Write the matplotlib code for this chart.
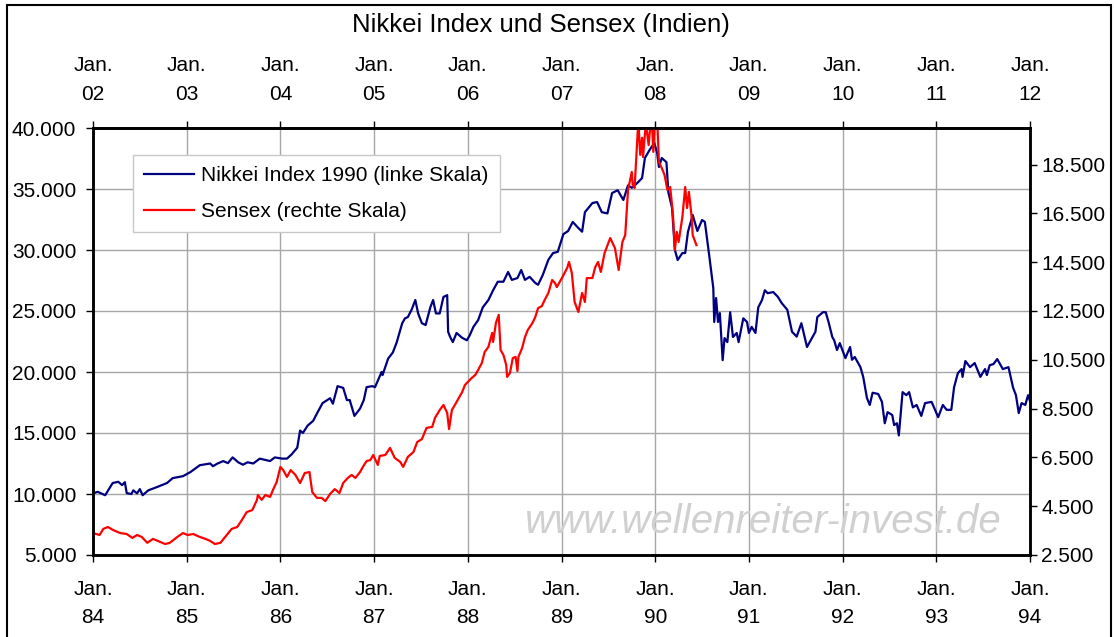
import matplotlib
matplotlib.use('Agg')
from matplotlib import pyplot as plt
from matplotlib.ticker import FuncFormatter
from matplotlib.patches import Rectangle

plt.rcParams['font.family'] = ['Liberation Sans', 'DejaVu Sans']

# time in years after Jan. 1984 (Nikkei) and after Jan. 2002 (Sensex)
nikkei_t = [0.00, 0.05, 0.13, 0.21, 0.27, 0.31, 0.34, 0.36, 0.41, 0.43, 0.47, 0.50, 0.53, 0.59, 0.68,
            0.79, 0.85, 0.96, 1.04, 1.14, 1.25, 1.28, 1.33, 1.39, 1.44, 1.49, 1.55, 1.60, 1.65, 1.71,
            1.78, 1.89, 1.94, 2.02, 2.07, 2.12, 2.18, 2.21, 2.24, 2.29, 2.35, 2.39, 2.45, 2.53, 2.56,
            2.61, 2.67, 2.71, 2.74, 2.79, 2.85, 2.89, 2.92, 2.98, 3.01, 3.08, 3.09, 3.15, 3.20, 3.24,
            3.30, 3.33, 3.36, 3.40, 3.44, 3.47, 3.51, 3.55, 3.60, 3.63, 3.66, 3.70, 3.74, 3.78, 3.79,
            3.81, 3.84, 3.88, 3.94, 3.99, 4.02, 4.06, 4.11, 4.16, 4.22, 4.27, 4.32, 4.38, 4.43, 4.47,
            4.53, 4.57, 4.61, 4.66, 4.72, 4.75, 4.80, 4.86, 4.91, 4.96, 5.02, 5.07, 5.12, 5.18, 5.22,
            5.25, 5.33, 5.38, 5.43, 5.49, 5.54, 5.60, 5.66, 5.71, 5.75, 5.81, 5.86, 5.89, 5.94, 5.99,
            6.02, 6.04, 6.07, 6.12, 6.14, 6.18, 6.21, 6.24, 6.29, 6.32, 6.35, 6.40, 6.45, 6.50, 6.53,
            6.58, 6.62, 6.63, 6.65, 6.67, 6.69, 6.72, 6.74, 6.77, 6.80, 6.83, 6.87, 6.89, 6.94, 6.98,
            7.00, 7.03, 7.07, 7.10, 7.14, 7.17, 7.20, 7.26, 7.31, 7.35, 7.41, 7.46, 7.51, 7.56, 7.62,
            7.71, 7.73, 7.79, 7.82, 7.85, 7.89, 7.91, 7.94, 7.97, 8.03, 8.08, 8.10, 8.13, 8.19, 8.22,
            8.26, 8.29, 8.32, 8.38, 8.42, 8.45, 8.48, 8.53, 8.55, 8.58, 8.60, 8.64, 8.68, 8.71, 8.75,
            8.79, 8.84, 8.88, 8.95, 9.02, 9.07, 9.11, 9.16, 9.19, 9.23, 9.27, 9.28, 9.31, 9.36, 9.41,
            9.47, 9.52, 9.54, 9.57, 9.61, 9.65, 9.71, 9.77, 9.82, 9.85, 9.88, 9.91, 9.95, 9.97, 9.98,
            10.00]
nikkei_val = [10050, 10180, 9900, 10900, 11000, 10730, 10970, 10070, 10000, 10300, 10050, 10400, 9900, 10300, 10560,
              10900, 11300, 11460, 11800, 12360, 12500, 12280, 12500, 12700, 12530, 13000, 12600, 12400, 12600, 12500,
              12900, 12700, 13000, 12900, 12900, 13250, 13800, 15200, 15000, 15600, 16000, 16600, 17450, 17850, 17400,
              18840, 18700, 17700, 17700, 16400, 17000, 17700, 18760, 18840, 18760, 20000, 19750, 21100, 21600, 22400,
              24000, 24400, 24500, 25100, 25900, 24800, 24000, 23850, 25300, 25900, 24800, 24800, 26150, 26300, 23300,
              22900, 22450, 23200, 22800, 22600, 23000, 23700, 24250, 25300, 25900, 26700, 27400, 27400, 28200, 27550,
              27700, 28360, 27550, 27800, 27300, 27150, 27950, 29200, 29750, 29850, 31300, 31550, 32300, 31800, 31500,
              33100, 33850, 33930, 33100, 33000, 34670, 34900, 34100, 35300, 35100, 35500, 35900, 37540, 38200, 38770,
              38000, 36800, 37540, 37200, 34750, 33440, 30000, 29180, 29750, 29750, 31500, 32870, 31560, 32460, 32300,
              29340, 26880, 24100, 26060, 24100, 24830, 20970, 22780, 22450, 24900, 22870, 23200, 22450, 24400, 24100,
              23200, 23700, 23200, 25300, 25900, 26700, 26460, 26550, 26150, 25650, 25100, 23300, 22900, 24000, 22050,
              23300, 24500, 24900, 24900, 24100, 22870, 22600, 21800, 22370, 21140, 22050, 21000, 21230, 20400, 19600,
              17860, 17300, 18300, 18200, 17550, 15800, 16710, 16470, 15650, 15800, 14800, 18350, 18100, 18350, 17100,
              17300, 16400, 17450, 17550, 16300, 17300, 16900, 16900, 18760, 19900, 20240, 19600, 20900, 20400, 20730,
              19600, 20240, 19750, 20560, 20650, 21060, 20240, 20400, 18700, 18100, 16630, 17450, 17300, 17860, 18100,
              17600]

sensex_t = [0.00, 0.07, 0.11, 0.16, 0.21, 0.29, 0.36, 0.42, 0.47, 0.52, 0.58, 0.64, 0.72, 0.77, 0.82,
            0.90, 0.96, 1.01, 1.07, 1.14, 1.20, 1.25, 1.30, 1.36, 1.41, 1.48, 1.54, 1.59, 1.64, 1.70,
            1.75, 1.76, 1.80, 1.84, 1.89, 1.92, 1.96, 2.00, 2.03, 2.07, 2.11, 2.16, 2.21, 2.26, 2.31,
            2.34, 2.39, 2.44, 2.48, 2.53, 2.58, 2.63, 2.67, 2.72, 2.76, 2.80, 2.85, 2.88, 2.92, 2.96,
            2.99, 3.04, 3.06, 3.12, 3.17, 3.22, 3.28, 3.31, 3.36, 3.42, 3.46, 3.51, 3.56, 3.62, 3.65,
            3.70, 3.74, 3.78, 3.80, 3.83, 3.88, 3.94, 3.97, 4.00, 4.04, 4.08, 4.11, 4.15, 4.18, 4.22,
            4.26, 4.27, 4.30, 4.33, 4.35, 4.38, 4.41, 4.42, 4.45, 4.48, 4.51, 4.53, 4.54, 4.58, 4.61,
            4.64, 4.69, 4.72, 4.75, 4.79, 4.82, 4.86, 4.90, 4.93, 4.95, 5.01, 5.06, 5.08, 5.11, 5.14,
            5.18, 5.22, 5.25, 5.27, 5.33, 5.36, 5.39, 5.42, 5.46, 5.52, 5.57, 5.61, 5.65, 5.68, 5.71,
            5.75, 5.76, 5.78, 5.82, 5.84, 5.86, 5.87, 5.90, 5.93, 5.96, 5.98, 6.00, 6.02, 6.04, 6.07,
            6.10, 6.13, 6.16, 6.19, 6.21, 6.23, 6.25, 6.29, 6.32, 6.34, 6.36, 6.39, 6.40, 6.44]
sensex_val = [3400, 3320, 3570, 3650, 3530, 3400, 3360, 3200, 3320, 3240, 3000, 3160, 3030, 2950, 3000,
              3240, 3400, 3320, 3360, 3240, 3160, 3080, 2950, 3000, 3240, 3570, 3650, 3940, 4260, 4340,
              4760, 4960, 4760, 4960, 4880, 5160, 5490, 6110, 5980, 5700, 5980, 5780, 5450, 5860, 5900,
              5080, 4840, 4840, 4710, 5000, 5200, 5040, 5450, 5660, 5780, 5660, 5900, 6110, 6350, 6390,
              6600, 6190, 6560, 6600, 6890, 6480, 6310, 6110, 6520, 6720, 7130, 7250, 7710, 7750, 8120,
              8440, 8650, 8320, 7660, 8440, 8770, 9180, 9470, 9590, 9750, 9880, 10080, 10370, 10820, 11030,
              11600, 11230, 12010, 12340, 10900, 10700, 10290, 9800, 9960, 10570, 10620, 10040, 10620, 10980, 11430,
              11720, 12010, 12250, 12620, 12700, 12950, 13240, 13770, 13650, 13480, 13890, 14260, 14510, 14060, 12870,
              12460, 13240, 12870, 13850, 13850, 14300, 14510, 14100, 14880, 15490, 15080, 14180, 15330, 15610, 17460,
              18200, 17660, 17540, 20300, 18900, 19600, 18810, 20200, 19300, 20600, 19020, 20800, 20500, 18600, 18360,
              18070, 17460, 17580, 16430, 15000, 15740, 15330, 16350, 17580, 16720, 17380, 16310, 15610, 15200]

bottom_labels = ['84', '85', '86', '87', '88', '89', '90', '91', '92', '93', '94']
top_labels = ['02', '03', '04', '05', '06', '07', '08', '09', '10', '11', '12']
left_ticks = [5000, 10000, 15000, 20000, 25000, 30000, 35000, 40000]
right_ticks = [2500, 4500, 6500, 8500, 10500, 12500, 14500, 16500, 18500]


def dotted(v, pos):
    return '{:,.0f}'.format(v).replace(',', '.')


fig = plt.figure(figsize=(11.14, 6.37), dpi=100)
ax = fig.add_axes([93 / 1114, 82 / 637, 937 / 1114, 427 / 637])
ax2 = ax.twinx()

ax.plot(nikkei_t, nikkei_val, color='#000080', lw=1.6, label='Nikkei Index 1990 (linke Skala)')
ax2.plot(sensex_t, sensex_val, color='#ff0000', lw=1.6, label='Sensex (rechte Skala)')

ax.set_xlim(0, 10)
ax.set_ylim(5000, 40000)
ax2.set_ylim(2500, 20000)

ax.set_xticks(range(11), ['Jan.\n' + s for s in bottom_labels])
ax.set_yticks(left_ticks)
ax2.set_yticks(right_ticks)
ax.yaxis.set_major_formatter(FuncFormatter(dotted))
ax2.yaxis.set_major_formatter(FuncFormatter(dotted))

ax.grid(True, color='#a6a6a6', lw=1)
ax.set_axisbelow(True)

ax.tick_params(axis='x', direction='out', length=5, width=1, labelsize=15, pad=13)
ax.tick_params(axis='y', direction='out', length=5, width=1, labelsize=15, pad=7)
ax2.tick_params(axis='y', direction='out', length=5, width=1, labelsize=15, pad=3)
for lbl in ax.get_xticklabels():
    lbl.set_linespacing(1.62)

sec = ax.secondary_xaxis('top')
sec.set_xticks(range(11), ['Jan.\n' + s for s in top_labels])
sec.tick_params(direction='out', length=5, width=1, labelsize=15, pad=12)
for lbl in sec.get_xticklabels():
    lbl.set_linespacing(1.72)
sec.spines['top'].set_linewidth(1.8)

for a in (ax, ax2):
    for sp in a.spines.values():
        sp.set_linewidth(1.8)

h1, l1 = ax.get_legend_handles_labels()
h2, l2 = ax2.get_legend_handles_labels()
leg = ax2.legend(h1 + h2, l1 + l2, loc='upper left', bbox_to_anchor=(0.0427, 0.937),
                 borderaxespad=0, fontsize=15, fancybox=False, framealpha=1, edgecolor='#c8c8c8',
                 handlelength=2.4, handletextpad=0.3, borderpad=0.55, labelspacing=0.8)
leg.get_frame().set_linewidth(1)

ax2.text(0.715, 0.078, 'www.wellenreiter-invest.de', transform=ax2.transAxes,
         fontsize=29, style='italic', color='#d0d0d0', ha='center', va='center')

fig.text(541 / 1114, 1 - 25 / 637, 'Nikkei Index und Sensex (Indien)', fontsize=18.5,
         ha='center', va='center')

fig.patches.append(Rectangle((7 / 1114, -0.02), 1104 / 1114, 1.02 - 5 / 637,
                             transform=fig.transFigure, fill=False, lw=1.5, ec='black'))

fig.savefig('out.png', dpi=100)
